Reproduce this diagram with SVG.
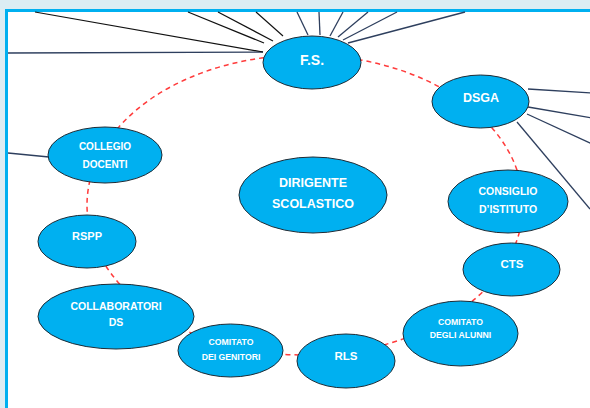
<svg xmlns="http://www.w3.org/2000/svg" width="590" height="408" viewBox="0 0 590 408">
  <style>
    .node { fill: #00B0F0; stroke: #1E2B35; stroke-width: 1; }
    .lbl { fill: #FFFFFF; font-family: "Liberation Sans", Arial, sans-serif; font-weight: bold; text-anchor: middle; }
    .ring { fill: none; stroke: #FF3B3B; stroke-width: 1.5; stroke-dasharray: 5 4; }
    .ln { stroke: #2E3F5E; stroke-width: 1.3; fill: none; }
    .ln-k { stroke: #111111; stroke-width: 1.2; fill: none; }
  </style>

  <!-- page frame -->
  <rect x="0" y="0" width="590" height="408" fill="#DCEDF3"/>
  <rect x="6.5" y="10.5" width="600" height="410" fill="#FFFFFF" stroke="#00B0F0" stroke-width="3"/>

  <g id="connectors">
    <!-- dashed ring linking the bodies -->
    <ellipse class="ring" cx="305" cy="205" rx="218" ry="150"/>
    <!-- rays from F.S. -->
    <line class="ln" x1="8" y1="53" x2="263" y2="52"/>
    <line class="ln-k" x1="35" y1="12" x2="263" y2="52"/>
    <line class="ln-k" x1="188" y1="12" x2="264" y2="43"/>
    <line class="ln-k" x1="218" y1="12" x2="273" y2="41"/>
    <line class="ln-k" x1="256" y1="12" x2="283" y2="36"/>
    <line class="ln" x1="297" y1="12" x2="308" y2="35"/>
    <line class="ln" x1="319" y1="12" x2="320" y2="35"/>
    <line class="ln" x1="343" y1="12" x2="330" y2="36"/>
    <line class="ln" x1="368" y1="12" x2="338" y2="37"/>
    <line class="ln" x1="397" y1="12" x2="343" y2="40"/>
    <line class="ln" x1="465" y1="12" x2="348" y2="43"/>
    <!-- rays from DSGA -->
    <line class="ln" x1="528" y1="89" x2="592" y2="93"/>
    <line class="ln" x1="528" y1="107" x2="592" y2="118"/>
    <line class="ln" x1="527" y1="114" x2="592" y2="144"/>
    <line class="ln" x1="517" y1="122" x2="590" y2="209"/>
    <!-- ray from COLLEGIO DOCENTI -->
    <line class="ln" x1="8" y1="153" x2="49" y2="157"/>
  </g>

  <g id="n-fs">
    <ellipse class="node" cx="312" cy="62.5" rx="49" ry="26.5"/>
    <text class="lbl" x="312" y="65" font-size="14">F.S.</text>
  </g>
  <g id="n-dsga">
    <ellipse class="node" cx="480.5" cy="101.5" rx="48.5" ry="26.5"/>
    <text class="lbl" x="481" y="101.5" font-size="12.5">DSGA</text>
  </g>
  <g id="n-ds">
    <ellipse class="node" cx="313" cy="195" rx="74" ry="38"/>
    <text class="lbl" x="313" y="186.5" font-size="12.5">DIRIGENTE</text>
    <text class="lbl" x="313" y="207.5" font-size="12.5">SCOLASTICO</text>
  </g>
  <g id="n-collegio">
    <ellipse class="node" cx="105" cy="155" rx="57" ry="28"/>
    <text class="lbl" x="105" y="149.5" font-size="10">COLLEGIO</text>
    <text class="lbl" x="105" y="167.5" font-size="10">DOCENTI</text>
  </g>
  <g id="n-consiglio">
    <ellipse class="node" cx="508" cy="201.5" rx="60" ry="31.5"/>
    <text class="lbl" x="508" y="194.5" font-size="10.5">CONSIGLIO</text>
    <text class="lbl" x="508" y="212.5" font-size="10.5">D’ISTITUTO</text>
  </g>
  <g id="n-rspp">
    <ellipse class="node" cx="87" cy="241.5" rx="49" ry="26.5"/>
    <text class="lbl" x="87" y="240" font-size="11">RSPP</text>
  </g>
  <g id="n-cts">
    <ellipse class="node" cx="511.5" cy="269.5" rx="48.5" ry="26.5"/>
    <text class="lbl" x="512" y="268" font-size="11.5">CTS</text>
  </g>
  <g id="n-collaboratori">
    <ellipse class="node" cx="116" cy="316.5" rx="78" ry="32.5"/>
    <text class="lbl" x="116" y="310" font-size="10.5">COLLABORATORI</text>
    <text class="lbl" x="116" y="326" font-size="10.5">DS</text>
  </g>
  <g id="n-alunni">
    <ellipse class="node" cx="460.5" cy="333.5" rx="57.5" ry="32.5"/>
    <text class="lbl" x="460.5" y="325" font-size="8.7">COMITATO</text>
    <text class="lbl" x="460.5" y="338" font-size="8.7">DEGLI ALUNNI</text>
  </g>
  <g id="n-genitori">
    <ellipse class="node" cx="230.5" cy="350.5" rx="52.5" ry="26.5"/>
    <text class="lbl" x="231" y="345" font-size="8.7">COMITATO</text>
    <text class="lbl" x="231" y="360" font-size="8.7">DEI GENITORI</text>
  </g>
  <g id="n-rls">
    <ellipse class="node" cx="346" cy="361" rx="49" ry="27"/>
    <text class="lbl" x="346" y="360" font-size="11.5">RLS</text>
  </g>
</svg>
